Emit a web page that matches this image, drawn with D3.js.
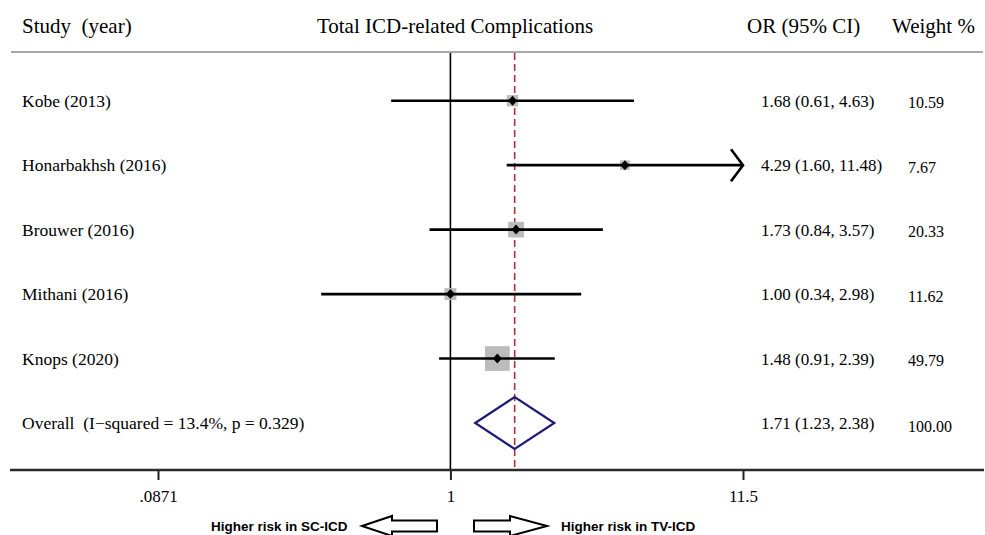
<!DOCTYPE html>
<html>
<head>
<meta charset="utf-8">
<script src="https://cdn.jsdelivr.net/npm/d3@7"></script>
<style>
  html, body { margin: 0; padding: 0; background: #fff; }
  svg { display: block; }
  text { white-space: pre; }
</style>
</head>
<body>
<svg id="chart" width="985" height="535"></svg>
<script>
// ---- data ----
const studies = ["Kobe (2013)", "Honarbakhsh (2016)", "Brouwer (2016)", "Mithani (2016)", "Knops (2020)"];
const orValues = [1.68, 4.29, 1.73, 1.00, 1.48];
const ciLow = [0.61, 1.60, 0.84, 0.34, 0.91];
const ciHigh = [4.63, 11.48, 3.57, 2.98, 2.39];
const weights = [10.59, 7.67, 20.33, 11.62, 49.79];
const orLabels = ["1.68 (0.61, 4.63)", "4.29 (1.60, 11.48)", "1.73 (0.84, 3.57)", "1.00 (0.34, 2.98)", "1.48 (0.91, 2.39)"];
const weightLabels = ["10.59", "7.67", "20.33", "11.62", "49.79"];
const overallLabel = "Overall  (I\u2212squared = 13.4%, p = 0.329)";
const overallOR = 1.71, overallLow = 1.23, overallHigh = 2.38;
const overallORLabel = "1.71 (1.23, 2.38)";
const overallWeightLabel = "100.00";
const xTicks = [0.0871, 1, 11.5];
const xTickLabels = [".0871", "1", "11.5"];
const headers = { study: "Study  (year)", title: "Total ICD-related Complications", or: "OR (95% CI)", weight: "Weight %" };
const leftNote = "Higher risk in SC-ICD", rightNote = "Higher risk in TV-ICD";

// ---- layout ----
const svg = d3.select("#chart");
const serif = "'Liberation Serif', 'Times New Roman', serif";
const x = d3.scaleLog().domain([xTicks[0], xTicks[2]]).range([158, 743]);
const y = d3.scaleLinear().domain([0, 5]).range([100.7, 423]);
const topY = 52, axisY = 470;

// headers
svg.append("text").attr("x", 22).attr("y", 33).attr("font-family", serif).attr("font-size", 21).text(headers.study);
svg.append("text").attr("x", 455).attr("y", 33).attr("text-anchor", "middle").attr("font-family", serif).attr("font-size", 21).text(headers.title);
svg.append("text").attr("x", 747).attr("y", 33).attr("font-family", serif).attr("font-size", 21).text(headers.or);
svg.append("text").attr("x", 892).attr("y", 33).attr("font-family", serif).attr("font-size", 21).text(headers.weight);
svg.append("line").attr("x1", 11).attr("x2", 983).attr("y1", topY).attr("y2", topY).attr("stroke", "#a8a8a8").attr("stroke-width", 2);

// reference lines
svg.append("line").attr("x1", x(1)).attr("x2", x(1)).attr("y1", topY + 1).attr("y2", axisY)
  .attr("stroke", "#000").attr("stroke-width", 1.6);
svg.append("line").attr("x1", x(overallOR)).attr("x2", x(overallOR)).attr("y1", topY + 1).attr("y2", axisY)
  .attr("stroke", "#b03038").attr("stroke-width", 1.6).attr("stroke-dasharray", "7,4");

// axis
const axis = d3.axisBottom(x).tickValues(xTicks).tickFormat((d, i) => xTickLabels[i]).tickSize(10).tickPadding(10);
const gAxis = svg.append("g").attr("transform", `translate(0,${axisY})`).call(axis);
gAxis.select(".domain").remove();
gAxis.selectAll(".tick line").attr("stroke", "#222").attr("stroke-width", 2);
gAxis.selectAll(".tick text").attr("font-family", serif).attr("font-size", 17).attr("fill", "#000");
svg.append("line").attr("x1", 10).attr("x2", 984).attr("y1", axisY).attr("y2", axisY).attr("stroke", "#2a2a2a").attr("stroke-width", 2.4);

// study rows
const rows = studies.map((s, i) => ({ s, or: orValues[i], lo: ciLow[i], hi: ciHigh[i], w: weights[i], orl: orLabels[i], wl: weightLabels[i], i }));
const xMax = xTicks[2];
const boxK = 3.5;

// grey weight boxes
svg.selectAll("rect.box").data(rows).enter().append("rect").attr("class", "box")
  .attr("x", d => x(d.or) - boxK * Math.sqrt(d.w) / 2)
  .attr("y", d => y(d.i) - boxK * Math.sqrt(d.w) / 2)
  .attr("width", d => boxK * Math.sqrt(d.w))
  .attr("height", d => boxK * Math.sqrt(d.w))
  .attr("fill", "#bcbcbc");

// CI lines
svg.selectAll("line.ci").data(rows).enter().append("line").attr("class", "ci")
  .attr("x1", d => x(d.lo)).attr("x2", d => x(Math.min(d.hi, xMax)))
  .attr("y1", d => y(d.i)).attr("y2", d => y(d.i))
  .attr("stroke", "#000").attr("stroke-width", 2.6);

// arrow for clipped CI
svg.selectAll("path.arrow").data(rows.filter(d => d.hi >= xMax * 0.99)).enter().append("path").attr("class", "arrow")
  .attr("d", d => { const ax = x(xMax), ay = y(d.i); return `M${ax - 12},${ay - 16}L${ax},${ay}L${ax - 12},${ay + 16}`; })
  .attr("fill", "none").attr("stroke", "#000").attr("stroke-width", 2.6);

// point markers
svg.selectAll("path.pt").data(rows).enter().append("path").attr("class", "pt")
  .attr("d", d => { const px = x(d.or), py = y(d.i); return `M${px - 4.5},${py}L${px},${py - 5}L${px + 4.5},${py}L${px},${py + 5}Z`; })
  .attr("fill", "#000");

// labels
svg.selectAll("text.lab").data(rows).enter().append("text").attr("class", "lab")
  .attr("x", 22).attr("y", d => y(d.i) + 6).attr("font-family", serif).attr("font-size", 17.5).text(d => d.s);
svg.selectAll("text.orl").data(rows).enter().append("text").attr("class", "orl")
  .attr("x", 761).attr("y", d => y(d.i) + 6).attr("font-family", serif).attr("font-size", 17).text(d => d.orl);
svg.selectAll("text.wl").data(rows).enter().append("text").attr("class", "wl")
  .attr("x", 908).attr("y", d => y(d.i) + 7.5).attr("font-family", serif).attr("font-size", 16).text(d => d.wl);

// overall
const oy = y(5);
svg.append("path")
  .attr("d", `M${x(overallLow)},${oy}L${x(overallOR)},${oy - 26}L${x(overallHigh)},${oy}L${x(overallOR)},${oy + 26}Z`)
  .attr("fill", "none").attr("stroke", "#1c1c78").attr("stroke-width", 2.2);
svg.append("text").attr("x", 22).attr("y", oy + 6).attr("font-family", serif).attr("font-size", 17.5).text(overallLabel);
svg.append("text").attr("x", 761).attr("y", oy + 6).attr("font-family", serif).attr("font-size", 17).text(overallORLabel);
svg.append("text").attr("x", 908).attr("y", oy + 9).attr("font-family", serif).attr("font-size", 16).text(overallWeightLabel);

// bottom notes with hollow arrows
const sans = "'Liberation Sans', Arial, sans-serif";
const ny = 526;
svg.append("text").attr("x", 211).attr("y", ny + 5).attr("font-family", sans).attr("font-weight", "bold").attr("font-size", 13.5).text(leftNote);
svg.append("text").attr("x", 561).attr("y", ny + 5).attr("font-family", sans).attr("font-weight", "bold").attr("font-size", 13.5).text(rightNote);
svg.append("path")
  .attr("d", `M362,${ny}L392,${ny - 10}L392,${ny - 5.5}L437,${ny - 5.5}L437,${ny + 5.5}L392,${ny + 5.5}L392,${ny + 10}Z`)
  .attr("fill", "#fff").attr("stroke", "#000").attr("stroke-width", 2);
svg.append("path")
  .attr("d", `M547,${ny}L510,${ny - 10}L510,${ny - 5.5}L474,${ny - 5.5}L474,${ny + 5.5}L510,${ny + 5.5}L510,${ny + 10}Z`)
  .attr("fill", "#fff").attr("stroke", "#000").attr("stroke-width", 2);
</script>
</body>
</html>
